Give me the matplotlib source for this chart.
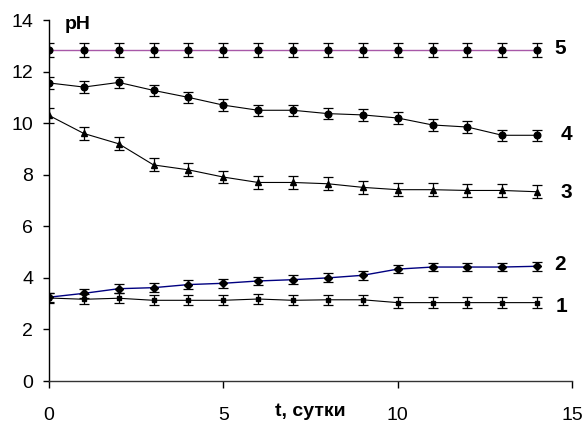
import matplotlib
matplotlib.use("Agg")
import matplotlib.pyplot as plt

plt.rcParams["font.family"] = ["Liberation Sans", "DejaVu Sans"]

# time, days
t = list(range(15))

ph1 = [3.22, 3.17, 3.21, 3.13, 3.13, 3.13, 3.18, 3.13, 3.15, 3.15, 3.04, 3.04, 3.04, 3.04, 3.04]
ph2 = [3.25, 3.40, 3.58, 3.62, 3.74, 3.79, 3.88, 3.93, 4.00, 4.10, 4.34, 4.42, 4.42, 4.42, 4.45]
ph3 = [10.30, 9.60, 9.20, 8.38, 8.19, 7.91, 7.70, 7.70, 7.65, 7.51, 7.42, 7.42, 7.39, 7.39, 7.34]
ph4 = [11.56, 11.40, 11.58, 11.27, 11.00, 10.70, 10.50, 10.50, 10.37, 10.32, 10.20, 9.93, 9.85, 9.53, 9.53]
ph5 = [12.85] * 15

err1 = [0.2] * 15
err2 = [0.17] * 15
err3 = [0.28] + [0.25] * 14
err4 = [0.22] * 15
err5 = [0.27] * 15

# name, values, errors, marker, marker size, line colour, label x, label y
series = [
    ("1", ph1, err1, "s", 3.2, "black", 14.7, 2.9),
    ("2", ph2, err2, "D", 3.6, "#000080", 14.65, 4.5),
    ("3", ph3, err3, "^", 4.8, "black", 14.85, 7.3),
    ("4", ph4, err4, "o", 4.8, "black", 14.85, 9.55),
    ("5", ph5, err5, "o", 4.8, "#A858A8", 14.67, 12.9),
]

fig = plt.figure(figsize=(5.88, 4.26), dpi=100)
ax = fig.add_axes([0.0833, 0.1056, 0.8895, 0.8474])

for name, y, e, mk, ms, col, lx, ly in series:
    ax.plot(t, y, color=col, lw=1.0 if col != "black" else 0.8, zorder=2)
    ax.errorbar(t, y, yerr=e, fmt=mk, ms=ms, color="black", ecolor="black",
                elinewidth=0.9, capsize=3.6, capthick=0.9, zorder=3)
    ax.text(lx, ly, name, fontsize=15, fontweight="bold", va="center", ha="center")

ax.set_xlim(0, 15)
ax.set_ylim(0, 14)
ax.set_xticks([0, 5, 10, 15])
ax.set_yticks(range(0, 15, 2))
ax.spines["top"].set_visible(False)
ax.spines["right"].set_visible(False)
ax.spines["left"].set_linewidth(1.0)
ax.spines["bottom"].set_linewidth(1.0)
ax.spines["bottom"].set_color("#333333")
ax.tick_params(axis="y", direction="out", length=4.5, width=1.0, labelsize=14, pad=7)
ax.tick_params(axis="x", direction="out", length=5, width=1.0, labelsize=14, pad=13.5)

ax.text(0.83, 13.66, "pH", fontsize=14, fontweight="bold", va="baseline", ha="center")
ax.text(7.5, -1.36, "t, сутки", fontsize=14, fontweight="bold", va="baseline", ha="center")

fig.savefig("out.png", dpi=100)
